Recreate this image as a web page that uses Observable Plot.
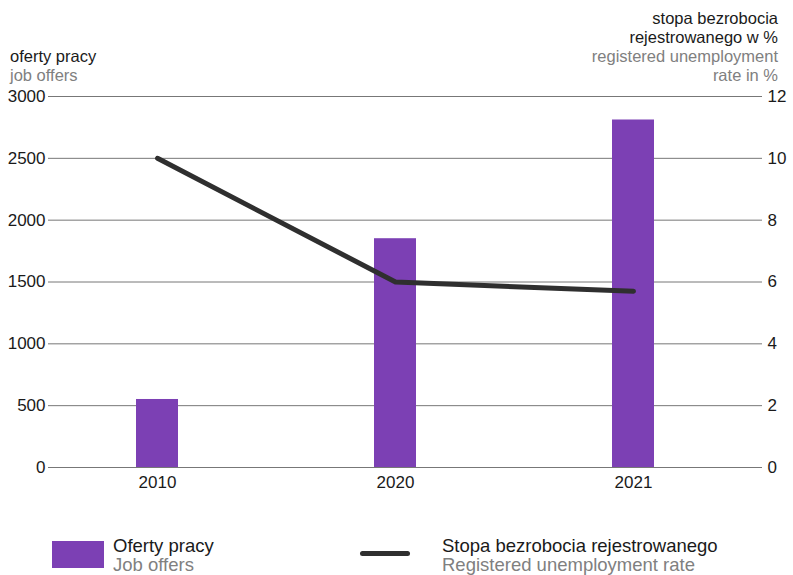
<!DOCTYPE html>
<html>
<head>
<meta charset="utf-8">
<script src="https://cdn.jsdelivr.net/npm/d3@7"></script>
<script src="https://cdn.jsdelivr.net/npm/@observablehq/plot@0.6"></script>
<style>
  body { margin: 0; background: #fff; font-family: "Liberation Sans", Arial, sans-serif; }
  #wrap { position: relative; width: 793px; height: 575px; overflow: hidden; }
  #chart { position: absolute; left: 0; top: 0; }
  .t { position: absolute; font-size: 16.5px; line-height: 19px; color: #1a1a1a; white-space: nowrap; }
  .g { color: #808080; }
  .leg { position: absolute; font-size: 18.5px; line-height: 19px; white-space: nowrap; color: #1a1a1a; }
</style>
</head>
<body>
<div id="wrap">
  <div id="chart"></div>
  <div class="t" style="left:10px; top:47px;">oferty pracy<br><span class="g">job offers</span></div>
  <div class="t" style="right:15px; top:9px; text-align:right;">stopa bezrobocia<br>rejestrowanego w %<br><span class="g">registered unemployment<br>rate in %</span></div>
  <div style="position:absolute; left:52px; top:541px; width:52px; height:27px; background:#7c40b4;"></div>
  <div class="leg" style="left:113px; top:536px;">Oferty pracy<br><span class="g">Job offers</span></div>
  <div style="position:absolute; left:360px; top:551px; width:50px; height:5px; border-radius:3px; background:#2f2f2f;"></div>
  <div class="leg" style="left:442px; top:536px;">Stopa bezrobocia rejestrowanego<br><span class="g">Registered unemployment rate</span></div>
</div>
<script>
const years = ["2010", "2020", "2021"];
const jobOffers = [550, 1850, 2810];
const unemploymentRate = [10.0, 6.0, 5.7];
const leftTicks = [0, 500, 1000, 1500, 2000, 2500, 3000];
const rightTicks = [0, 2, 4, 6, 8, 10, 12];
const offersMax = 3000;
const rateMax = 12;
const k = offersMax / rateMax;

const data = years.map((y, i) => ({year: y, offers: jobOffers[i], rate: unemploymentRate[i]}));

const chart = Plot.plot({
  width: 793,
  height: 500,
  marginTop: 96,
  marginBottom: 33,
  marginLeft: 48,
  marginRight: 31,
  style: {fontFamily: "Liberation Sans, Arial, sans-serif", fontSize: "17px", color: "#1a1a1a", background: "transparent"},
  x: {domain: years, paddingInner: 0.8235, paddingOuter: 0.41175, align: 0.449, label: null},
  y: {domain: [0, offersMax], label: null},
  marks: [
    Plot.gridY({ticks: leftTicks, stroke: "#777", strokeOpacity: 1, strokeWidth: 1}),
    Plot.barY(data, {x: "year", y: "offers", fill: "#7c40b4"}),
    Plot.line(data, {x: "year", y: d => d.rate * k, stroke: "#2f2f2f", strokeWidth: 5, strokeLinecap: "round", strokeLinejoin: "round"}),
    Plot.axisY({anchor: "left", ticks: leftTicks, tickFormat: d => String(d), tickSize: 0, tickPadding: 3, label: null}),
    Plot.axisY({anchor: "right", ticks: rightTicks.map(t => t * k), tickFormat: d => String(d / k), tickSize: 0, tickPadding: 5, label: null}),
    Plot.axisX({tickSize: 0, tickPadding: 8, label: null})
  ]
});
document.getElementById("chart").appendChild(chart);
</script>
</body>
</html>
